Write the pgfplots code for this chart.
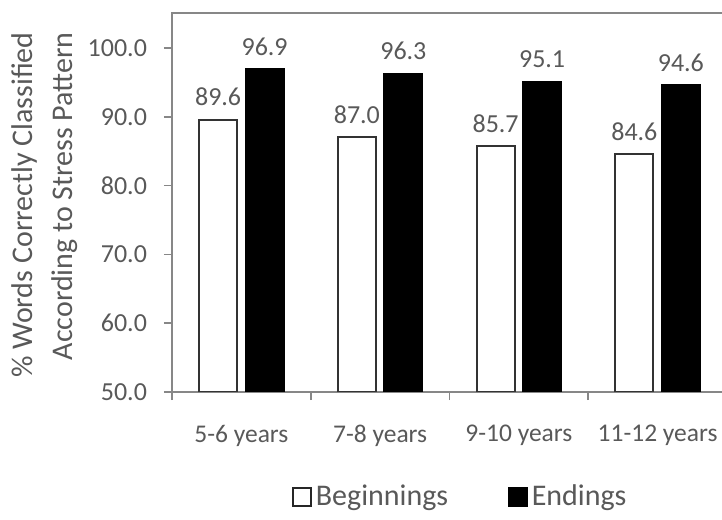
\documentclass[border=0pt]{standalone}
\usepackage{fontspec}
\setmainfont{Carlito}
\usepackage{pgfplots}
\pgfplotsset{compat=1.18}
\definecolor{txt}{HTML}{595959}
\definecolor{axl}{HTML}{878787}
\begin{document}
\begin{tikzpicture}
\useasboundingbox (0,0) rectangle (361pt,259.5pt);
\begin{axis}[
  at={(86pt,63.5pt)}, anchor=south west,
  width=277.5pt, height=189.5pt, scale only axis,
  ymin=50, ymax=105.1,
  xmin=-0.5, xmax=3.5,
  ybar=4.25pt, bar width=19pt,
  axis line style={axl, line width=1pt},
  tick style={axl, line width=0.8pt},
  tick align=outside,
  xtick pos=bottom, ytick pos=left,
  ytick={50,60,70,80,90,100},
  major tick length=4pt,
  xtick={-0.5,0.5,1.5,2.5,3.5},
  xticklabels={},
  extra x ticks={0,1,2,3},
  extra x tick labels={5-6 years,7-8 years,9-10 years,11-12 years},
  extra x tick style={major tick length=0pt, tick style={draw=none},
     xticklabel style={font=\fontsize{12.75}{15}\selectfont, text=txt, yshift=-13pt}},
  yticklabel style={font=\fontsize{13}{15}\selectfont, text=txt, xshift=-5pt},
  /pgf/number format/assume math mode=true,
  yticklabel={\pgfmathprintnumber[fixed,fixed zerofill,precision=1]{\tick}},
  ylabel={\% Words Correctly Classified\\According to Stress Pattern},
  ylabel style={at={(axis description cs:-0.2288,0.95)}, anchor=east, rotate=0,
     align=right, inner sep=0pt, font=\fontsize{15}{20}\selectfont, text=txt},
  nodes near coords={\pgfmathprintnumber[fixed,fixed zerofill,precision=1]{\pgfplotspointmeta}},
  every node near coord/.append style={font=\fontsize{13}{15}\selectfont, text=txt, yshift=3pt},
  legend style={at={(0.216,-0.277)}, anchor=west, draw=none, inner sep=0pt,
     legend columns=2, font=\fontsize{15}{18}\selectfont, text=txt,
     /tikz/every even column/.append style={column sep=28pt}},
  legend cell align=left,
]
\addplot[fill=white, draw=black!80, line width=1pt,
  legend image code/.code={\draw[fill=white, draw=black!85, line width=0.8pt] (0pt,-4.5pt) rectangle (9pt,4.5pt);}]
  coordinates {(0,89.6) (1,87.0) (2,85.7) (3,84.6)};
\addplot[fill=black, draw=black, line width=1pt,
  legend image code/.code={\draw[fill=black, draw=black, line width=0.8pt] (0pt,-4.5pt) rectangle (9pt,4.5pt);}]
  coordinates {(0,96.9) (1,96.3) (2,95.1) (3,94.6)};
\legend{Beginnings,Endings}
\end{axis}
\end{tikzpicture}
\end{document}
